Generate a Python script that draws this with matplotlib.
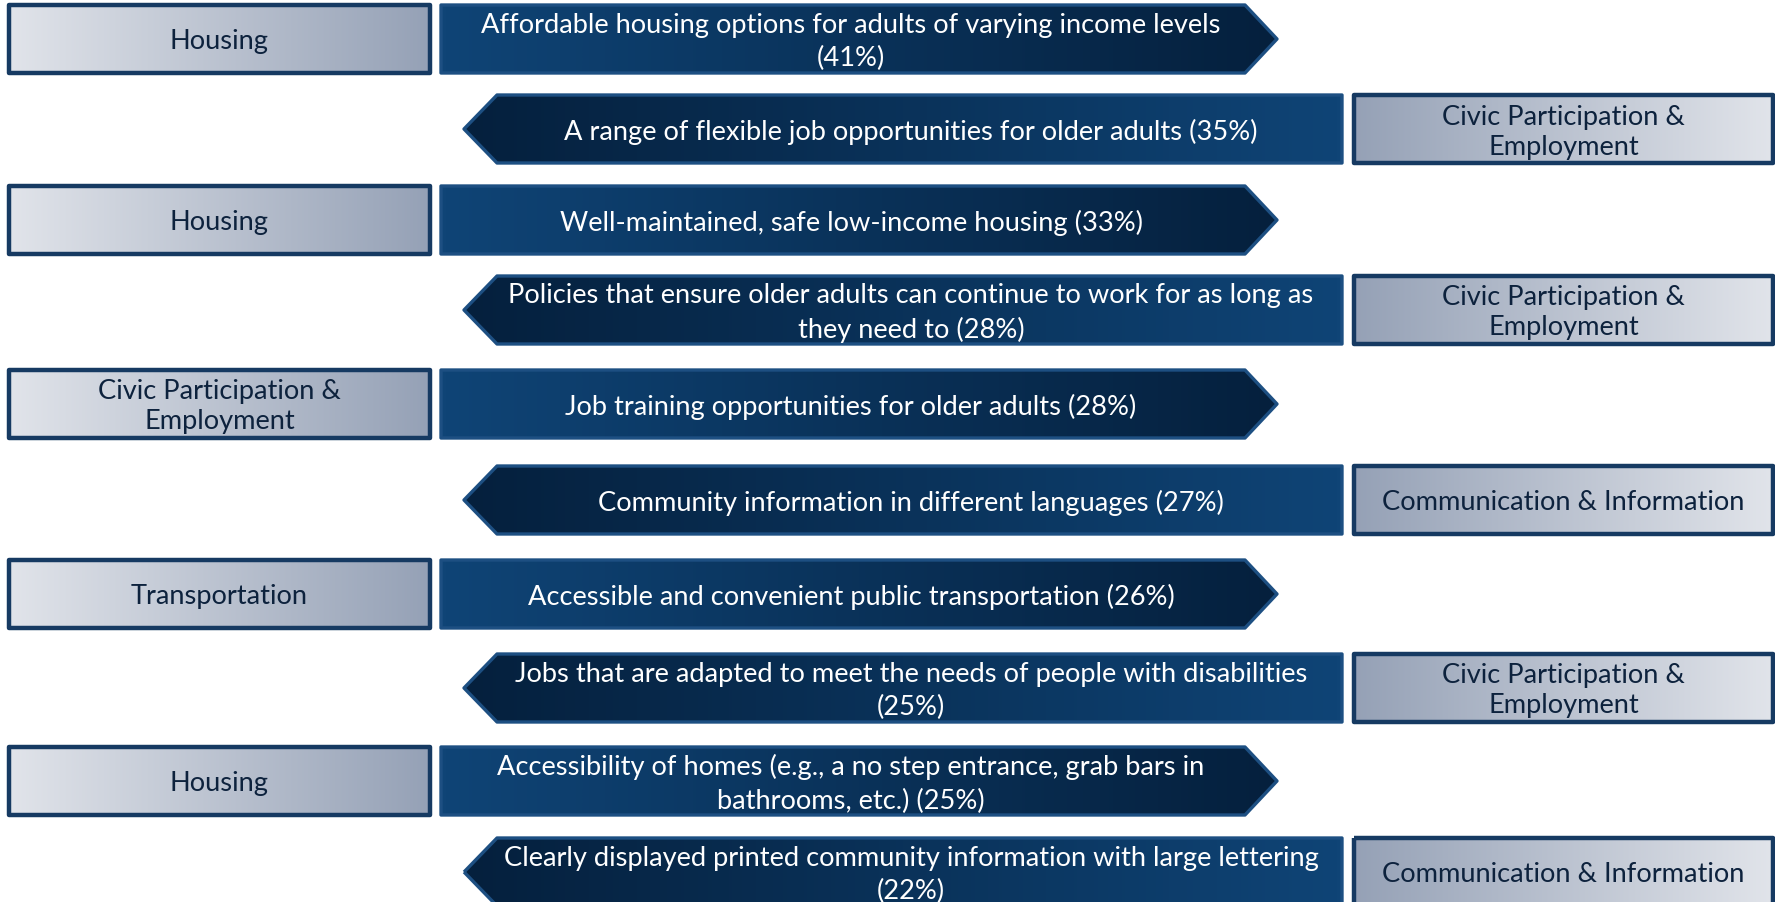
import matplotlib
matplotlib.use("Agg")
import matplotlib.pyplot as plt
import numpy as np
from matplotlib.patches import Polygon
from matplotlib.colors import LinearSegmentedColormap

# ---- data ----
items = [
    "Affordable housing options for adults of varying income levels",
    "A range of flexible job opportunities for older adults",
    "Well-maintained, safe low-income housing",
    "Policies that ensure older adults can continue to work for as long as\nthey need to",
    "Job training opportunities for older adults",
    "Community information in different languages",
    "Accessible and convenient public transportation",
    "Jobs that are adapted to meet the needs of people with disabilities",
    "Accessibility of homes (e.g., a no step entrance, grab bars in\nbathrooms, etc.)",
    "Clearly displayed printed community information with large lettering",
]
percents = [41, 35, 33, 28, 28, 27, 26, 25, 25, 22]
categories = [
    "Housing",
    "Civic Participation &\nEmployment",
    "Housing",
    "Civic Participation &\nEmployment",
    "Civic Participation &\nEmployment",
    "Communication & Information",
    "Transportation",
    "Civic Participation &\nEmployment",
    "Housing",
    "Communication & Information",
]
pct_on_new_line = [True, False, False, False, False, False, False, True, False, True]

# ---- layout (pixels) ----
W, H = 1775, 903
row_tops = [6, 96, 187, 277, 371, 467, 561, 655, 748, 839]
row_h = 68
left_box = (9, 430)
right_box = (1354, 1773)
r_arrow = (441, 1245, 1277)   # left, body end, tip
l_arrow = (464, 497, 1342)    # tip, body start, right
FONT = "Lato"
FS = 19.6

fig = plt.figure(figsize=(W / 100, H / 100), dpi=100)
ax = fig.add_axes([0, 0, 1, 1])
ax.set_xlim(0, W)
ax.set_ylim(H, 0)
ax.axis("off")

arrow_light, arrow_dark = "#0f4476", "#05203d"
box_light, box_dark = "#e1e4ea", "#95a1b6"
cmap_r = LinearSegmentedColormap.from_list("r", [arrow_light, arrow_dark])
cmap_l = LinearSegmentedColormap.from_list("l", [arrow_dark, arrow_light])
cmap_bl = LinearSegmentedColormap.from_list("bl", [box_light, box_dark])
cmap_br = LinearSegmentedColormap.from_list("br", [box_dark, box_light])
grad = np.linspace(0, 1, 256).reshape(1, -1)


def shape(verts, cmap, edge, lw):
    xs = [v[0] for v in verts]
    ys = [v[1] for v in verts]
    poly = Polygon(verts, closed=True, facecolor="none", edgecolor=edge,
                   linewidth=lw, joinstyle="round", zorder=3)
    ax.add_patch(poly)
    im = ax.imshow(grad, cmap=cmap, aspect="auto",
                   extent=(min(xs), max(xs), max(ys), min(ys)), zorder=2,
                   interpolation="bicubic")
    im.set_clip_path(poly)


for i, (lab, p, cat) in enumerate(zip(items, percents, categories)):
    y0 = row_tops[i]
    y1 = y0 + row_h
    yc = (y0 + y1) / 2 + 2
    sep = "\n" if pct_on_new_line[i] else " "
    text = f"{lab}{sep}({p}%)"
    if i % 2 == 0:
        bx0, bx1 = left_box
        shape([(bx0, y0), (bx1, y0), (bx1, y1), (bx0, y1)], cmap_bl, "#163a62", 3.2)
        ax.text((bx0 + bx1) / 2, yc, cat, ha="center", va="center", color="#0d223d",
                fontsize=FS, family=FONT, zorder=5, linespacing=1.25)
        a0, a1, tip = r_arrow
        shape([(a0, y0), (a1, y0), (tip, yc - 2), (a1, y1), (a0, y1)], cmap_r, "#1d4f82", 2.4)
        tx = (a0 + tip) / 2 - 8
    else:
        bx0, bx1 = right_box
        shape([(bx0, y0), (bx1, y0), (bx1, y1), (bx0, y1)], cmap_br, "#163a62", 3.2)
        ax.text((bx0 + bx1) / 2, yc, cat, ha="center", va="center", color="#0d223d",
                fontsize=FS, family=FONT, zorder=5, linespacing=1.25)
        tip, a0, a1 = l_arrow
        shape([(tip, yc - 2), (a0, y0), (a1, y0), (a1, y1), (a0, y1)], cmap_l, "#1d4f82", 2.4)
        tx = (tip + a1) / 2 + 8
    ax.text(tx, yc, text, ha="center", va="center", color="white",
            fontsize=FS, family=FONT, zorder=5, linespacing=1.41)

fig.savefig("out.png", dpi=100, facecolor="white")
